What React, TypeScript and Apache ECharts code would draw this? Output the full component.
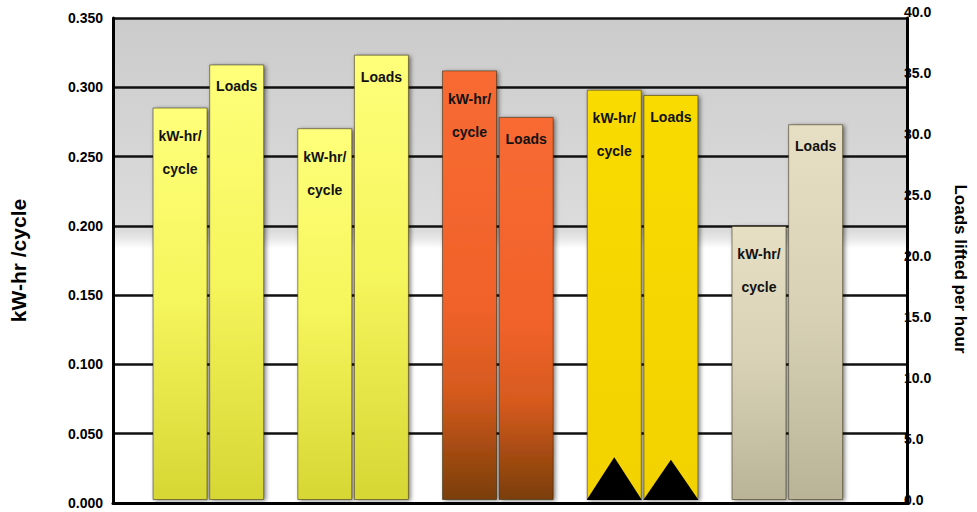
import React, { useEffect, useRef } from "react";
import * as echarts from "echarts";

// ---- data ----
const CATEGORIES = ["Unit 1", "Unit 2", "Unit 3", "Unit 4", "Unit 5"];
const KWH_PER_CYCLE = [0.285, 0.27, 0.312, 0.298, 0.199];
const LOADS_PER_HOUR = [35.7, 36.5, 31.4, 33.2, 30.8];
// black triangle marks at the foot of the fourth pair
const KWH_TRIANGLE: (number | string)[] = ["-", "-", "-", 0.031, "-"];
const LOADS_TRIANGLE: (number | string)[] = ["-", "-", "-", 3.3, "-"];
const KWH_TICKS = { min: 0, max: 0.35, interval: 0.05 };
const LOADS_TICKS = { min: 0, max: 40, interval: 5 };
const KWH_LABEL = "kW-hr/\ncycle";
const LOADS_LABEL = "Loads";
const LEFT_AXIS_NAME = "kW-hr /cycle";
const RIGHT_AXIS_NAME = "Loads lifted per hour";

// ---- styling ----
const FONT = "Arial, 'Liberation Sans', sans-serif";
// the bars share the right-hand axis geometry (12..500 px); the kW axis there is stretched so 0.35 sits on the top rule
const KWH_BAR_AXIS_MAX = 0.3544;
const GROUP_STOPS: [number, string][][] = [
  [[0, "#ffff7a"], [0.5, "#f5f55c"], [1, "#d6d634"]],
  [[0, "#ffff7a"], [0.5, "#f5f55c"], [1, "#d6d634"]],
  [[0, "#f86a32"], [0.55, "#f0622a"], [0.75, "#d55a1e"], [1, "#7a3e07"]],
  [[0, "#f9db00"], [1, "#f2d200"]],
  [[0, "#e6dfc3"], [0.5, "#d8d1b5"], [1, "#b9b498"]],
];

const grad = (stops: [number, string][]) =>
  new echarts.graphic.LinearGradient(
    0,
    0,
    0,
    1,
    stops.map(([offset, color]) => ({ offset, color }))
  );

const barItemStyle = {
  borderColor: "rgba(40,30,0,0.5)",
  borderWidth: 1,
  shadowBlur: 4,
  shadowColor: "rgba(0,0,0,0.5)",
  shadowOffsetX: 2,
  shadowOffsetY: 1,
};

const labelText = {
  color: "#111",
  fontWeight: "bold" as const,
  fontSize: 14,
  fontFamily: FONT,
};

export default function App() {
  const ref = useRef<HTMLDivElement>(null);
  useEffect(() => {
    if (!ref.current) return;
    const chart = echarts.init(ref.current, undefined, { renderer: "svg" });

    const bgGradient = new echarts.graphic.LinearGradient(0, 0, 0, 1, [
      { offset: 0, color: "#cbcbcb" },
      { offset: 0.44, color: "#dcdcdc" },
      { offset: 0.455, color: "#e8e8e8" },
      { offset: 0.475, color: "#ffffff" },
      { offset: 1, color: "#ffffff" },
    ]);

    const axisLabelStyle = {
      color: "#000",
      fontWeight: "bold" as const,
      fontSize: 14,
      fontFamily: FONT,
    };

    const option: any = {
      animation: false,
      backgroundColor: "#ffffff",
      grid: [
        {
          left: 107,
          right: 70,
          top: 18,
          bottom: 9,
          show: true,
          borderWidth: 0,
          backgroundColor: bgGradient,
        },
        { left: 136, right: 104, top: 12, bottom: 12 },
      ],
      xAxis: [
        {
          gridIndex: 0,
          type: "category",
          data: CATEGORIES,
          axisLine: { show: true, lineStyle: { color: "#000", width: 3 } },
          axisTick: { show: false },
          axisLabel: { show: false },
          splitLine: { show: false },
        },
        { gridIndex: 1, type: "category", data: CATEGORIES, show: false },
      ],
      yAxis: [
        {
          gridIndex: 0,
          type: "value",
          position: "left",
          min: KWH_TICKS.min,
          max: KWH_TICKS.max,
          interval: KWH_TICKS.interval,
          axisLine: { show: true, lineStyle: { color: "#000", width: 3 } },
          axisTick: { show: false },
          axisLabel: {
            ...axisLabelStyle,
            margin: 10,
            formatter: (v: number) => v.toFixed(3),
          },
          splitLine: { show: true, lineStyle: { color: "#111", width: 2.5 } },
          name: LEFT_AXIS_NAME,
          nameLocation: "middle",
          nameGap: 84,
          nameTextStyle: {
            color: "#000",
            fontWeight: "bold",
            fontSize: 21,
            fontFamily: FONT,
          },
        },
        {
          gridIndex: 0,
          type: "value",
          position: "right",
          min: 0,
          max: 1,
          axisLine: { show: true, lineStyle: { color: "#000", width: 3 } },
          axisTick: { show: false },
          axisLabel: { show: false },
          splitLine: { show: false },
        },
        {
          gridIndex: 1,
          type: "value",
          min: 0,
          max: KWH_BAR_AXIS_MAX,
          show: false,
          splitLine: { show: false },
        },
        {
          gridIndex: 1,
          type: "value",
          position: "right",
          offset: 34.3,
          min: LOADS_TICKS.min,
          max: LOADS_TICKS.max,
          interval: LOADS_TICKS.interval,
          axisLine: { show: false },
          axisTick: { show: false },
          axisLabel: {
            ...axisLabelStyle,
            margin: 10,
            formatter: (v: number) => v.toFixed(1),
          },
          splitLine: { show: false },
          name: RIGHT_AXIS_NAME,
          nameLocation: "middle",
          nameRotate: -90,
          nameGap: 58,
          nameTextStyle: {
            color: "#000",
            fontWeight: "bold",
            fontSize: 17,
            fontFamily: FONT,
            padding: [0, 0, 0, 26],
          },
        },
      ],
      series: [
        {
          name: "kW-hr/cycle",
          type: "bar",
          xAxisIndex: 1,
          yAxisIndex: 2,
          barWidth: 55,
          barGap: "3%",
          data: KWH_PER_CYCLE.map((v, i) => ({
            value: v,
            itemStyle: { color: grad(GROUP_STOPS[i]) },
          })),
          itemStyle: barItemStyle,
          label: {
            show: true,
            position: "insideTop",
            distance: 12,
            formatter: KWH_LABEL,
            lineHeight: 33,
            ...labelText,
          },
          z: 3,
        },
        {
          name: "Loads lifted per hour",
          type: "bar",
          xAxisIndex: 1,
          yAxisIndex: 3,
          barWidth: 55,
          barGap: "3%",
          data: LOADS_PER_HOUR.map((v, i) => ({
            value: v,
            itemStyle: { color: grad(GROUP_STOPS[i]) },
          })),
          itemStyle: barItemStyle,
          label: {
            show: true,
            position: "insideTop",
            distance: 14,
            formatter: LOADS_LABEL,
            lineHeight: 16,
            ...labelText,
          },
          z: 3,
        },
        {
          type: "pictorialBar",
          xAxisIndex: 1,
          yAxisIndex: 2,
          barWidth: 55,
          barGap: "3%",
          symbol: "triangle",
          symbolSize: ["100%", "100%"],
          symbolPosition: "start",
          itemStyle: { color: "#000" },
          data: KWH_TRIANGLE,
          z: 4,
        },
        {
          type: "pictorialBar",
          xAxisIndex: 1,
          yAxisIndex: 3,
          barWidth: 55,
          barGap: "3%",
          symbol: "triangle",
          symbolSize: ["100%", "100%"],
          symbolPosition: "start",
          itemStyle: { color: "#000" },
          data: LOADS_TRIANGLE,
          z: 4,
        },
      ],
    };

    chart.setOption(option);
    return () => chart.dispose();
  }, []);

  return (
    <div
      ref={ref}
      style={{ position: "absolute", left: 0, top: 0, width: 977, height: 512 }}
    />
  );
}
